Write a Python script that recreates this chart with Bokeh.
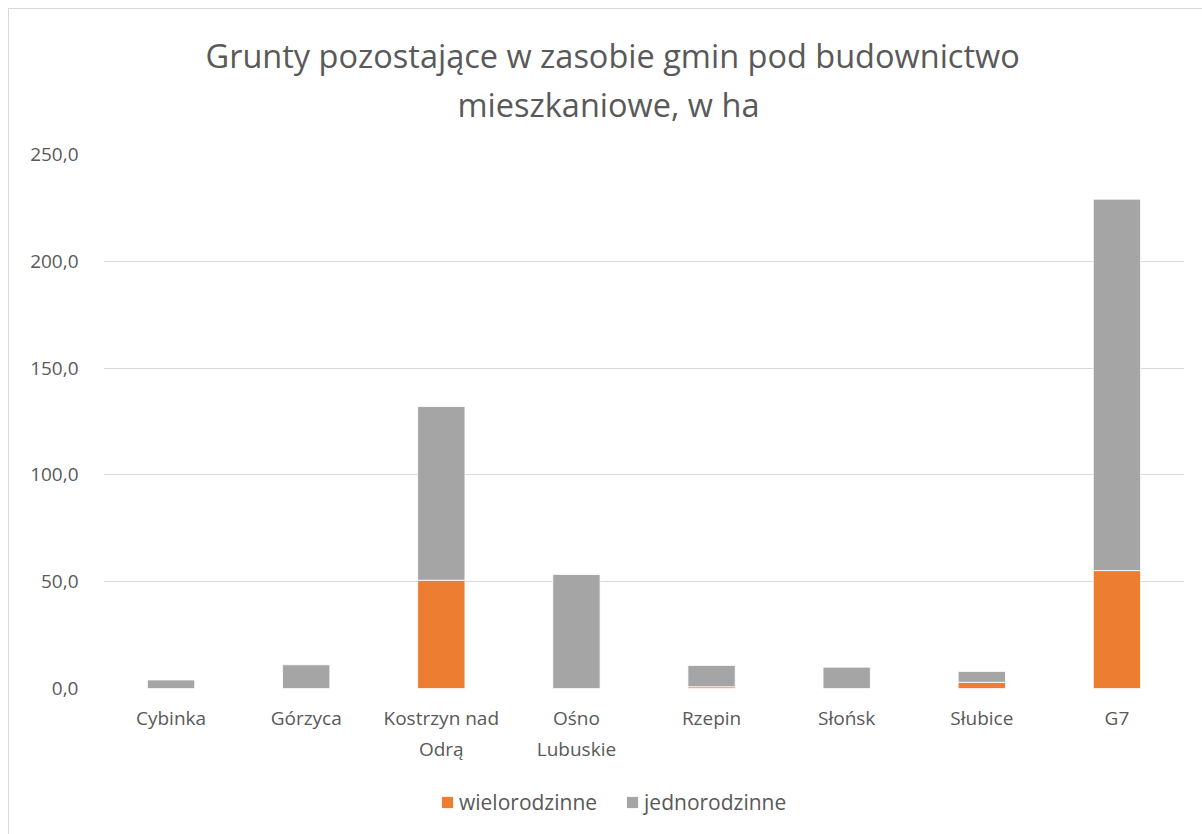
from bokeh.plotting import figure
from bokeh.layouts import column
from bokeh.models import FactorRange, Range1d, SingleIntervalTicker, CustomJSTickFormatter, Legend, LegendItem, Title
from bokeh.embed import file_html
from bokeh.resources import INLINE

categories = ["Cybinka", "Górzyca", "Kostrzyn nad\nOdrą", "Ośno\nLubuskie",
              "Rzepin", "Słońsk", "Słubice", "G7"]
wielorodzinne = [0.0, 0.0, 50.7, 0.0, 0.8, 0.0, 2.9, 55.2]
jednorodzinne = [4.0, 11.1, 81.3, 53.4, 10.0, 10.0, 5.1, 173.9]
series_names = ["wielorodzinne", "jednorodzinne"]
colors = ["#ED7D31", "#A5A5A5"]
title_lines = ["Grunty pozostające w zasobie gmin pod budownictwo", "mieszkaniowe, w ha"]

FONT = "Open Sans"
TXT = "#595959"

p = figure(x_range=FactorRange(*categories), y_range=Range1d(0, 250),
           width=1193, height=760, output_backend="svg", toolbar_location=None,
           min_border_left=94, min_border_right=18, min_border_top=145, min_border_bottom=81)

data = {"cat": categories, "wielorodzinne": wielorodzinne, "jednorodzinne": jednorodzinne}
rs = p.vbar_stack(series_names, x="cat", width=0.35, color=colors, source=data,
                  line_color="white", line_width=0.8)

p.title = None
# spacer between frame and title lines
p.add_layout(Title(text=" ", text_font_size="1px", standoff=23), "above")
p.add_layout(Title(text=title_lines[1], align="left", offset=354, text_font=FONT,
                   text_font_size="32.5px", text_font_style="normal", text_color=TXT,
                   standoff=4), "above")
p.add_layout(Title(text=title_lines[0], align="left", offset=102, text_font=FONT,
                   text_font_size="32.5px", text_font_style="normal", text_color=TXT,
                   standoff=0), "above")

p.outline_line_color = None
p.xgrid.grid_line_color = None
p.ygrid.grid_line_color = "#D9D9D9"
p.ygrid.grid_line_width = 1.2

p.yaxis.ticker = SingleIntervalTicker(interval=50)
p.yaxis.formatter = CustomJSTickFormatter(code="return tick.toFixed(1).replace('.', ',');")
for ax in (p.xaxis[0], p.yaxis[0]):
    ax.axis_line_color = None
    ax.major_tick_line_color = None
    ax.minor_tick_line_color = None
    ax.major_label_text_font = FONT
    ax.major_label_text_font_size = "19px"
    ax.major_label_text_color = TXT
p.yaxis.major_label_standoff = 19
p.xaxis.major_label_standoff = 10

# legend strip below the chart (its frame is aligned with the chart's frame)
lf = figure(width=1193, height=65, output_backend="svg", toolbar_location=None,
            x_axis_location=None, y_axis_location=None, min_border=0)
lf.outline_line_color = None
lf.grid.grid_line_color = None
lrs = [lf.vbar(x=[0], top=[0], bottom=[0], width=0, fill_color=c, line_color=None) for c in colors]
legend = Legend(items=[LegendItem(label=n, renderers=[r]) for n, r in zip(series_names, lrs)],
                orientation="horizontal", location=(337, 18),
                label_text_font=FONT, label_text_font_size="21px", label_text_color=TXT,
                glyph_width=14, glyph_height=14, spacing=28, padding=0, margin=0,
                border_line_color=None, background_fill_alpha=0)
lf.add_layout(legend, "center")

layout = column(p, lf, spacing=0,
                styles={"border-left": "1px solid #D9D9D9", "border-top": "1px solid #D9D9D9",
                        "margin": "8px 0 0 8px"})

open("out.html", "w").write(file_html(layout, INLINE))
